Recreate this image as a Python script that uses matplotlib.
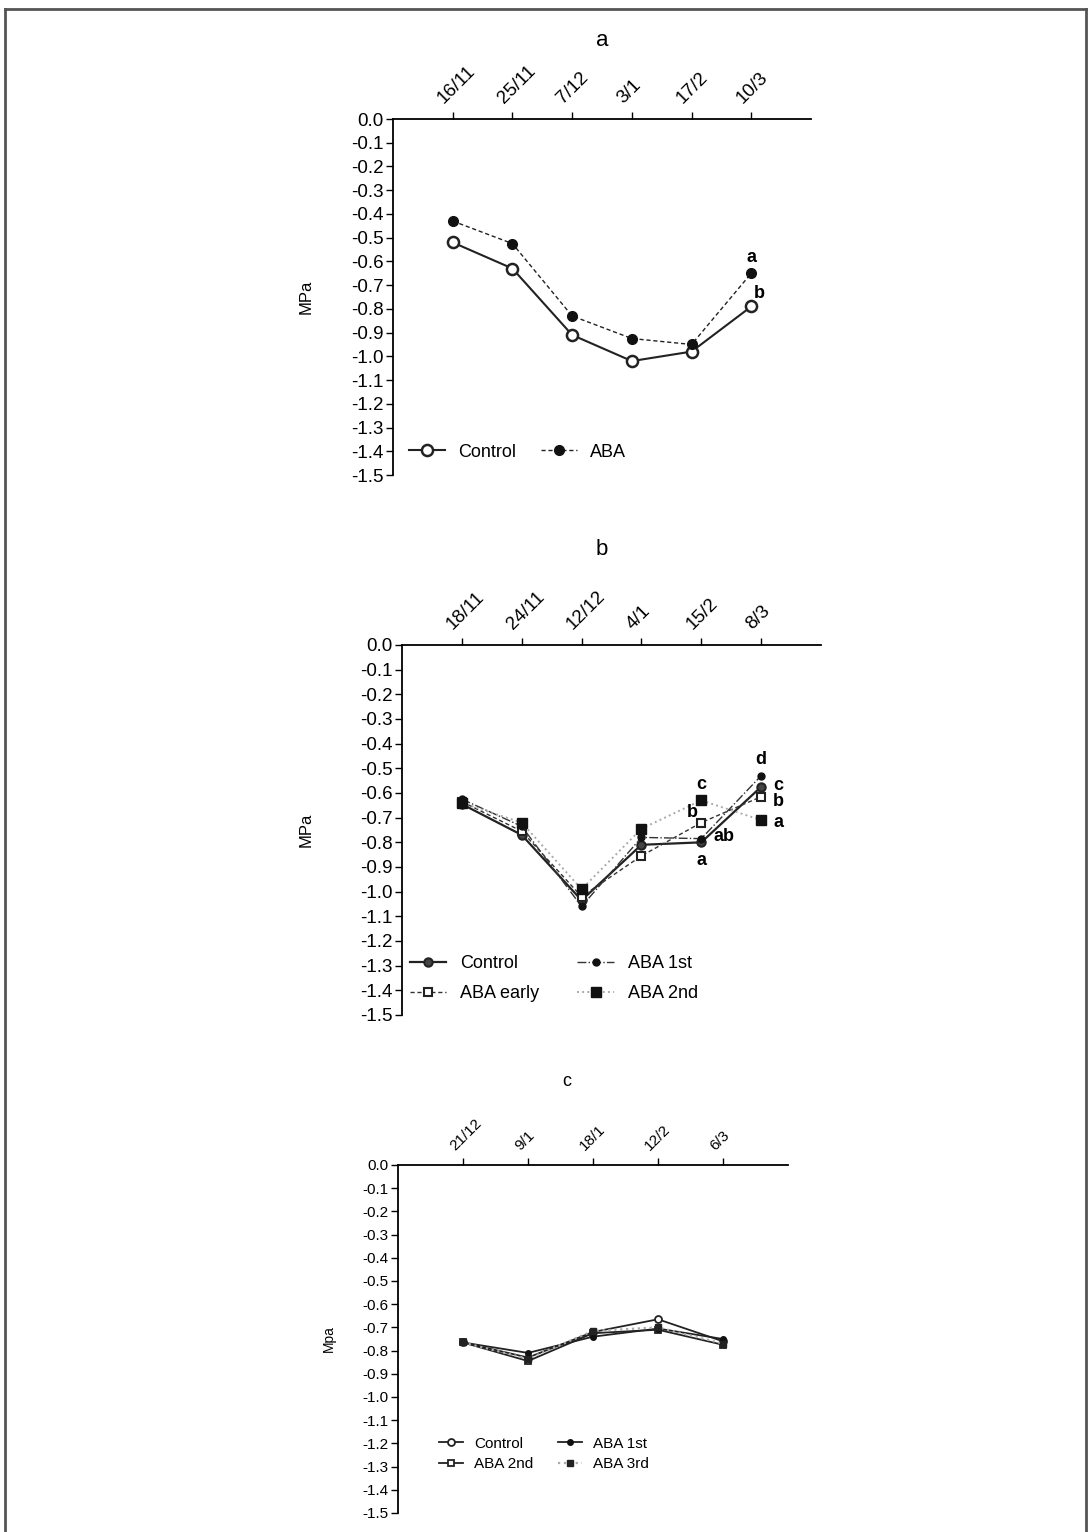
import numpy as np
import matplotlib
matplotlib.use('Agg')
import matplotlib.pyplot as plt
from matplotlib.lines import Line2D

plt.rcParams['font.family'] = ['Liberation Sans', 'DejaVu Sans']
plt.rcParams['axes.unicode_minus'] = False

# panel a: two treatments
a_dates = ['16/11', '25/11', '7/12', '3/1', '17/2', '10/3']
a_control = [-0.52, -0.63, -0.91, -1.02, -0.98, -0.79]
a_aba = [-0.43, -0.525, -0.83, -0.925, -0.95, -0.65]

# panel b: four treatments
b_dates = ['18/11', '24/11', '12/12', '4/1', '15/2', '8/3']
b_control = [-0.645, -0.77, -1.035, -0.81, -0.80, -0.575]
b_aba1 = [-0.625, -0.735, -1.06, -0.78, -0.785, -0.53]
b_early = [-0.635, -0.755, -1.02, -0.855, -0.72, -0.615]
b_aba2 = [-0.64, -0.72, -0.99, -0.745, -0.63, -0.71]

# panel c: four treatments
c_dates = ['21/12', '9/1', '18/1', '12/2', '6/3']
c_control = [-0.765, -0.83, -0.72, -0.665, -0.76]
c_aba1 = [-0.765, -0.81, -0.74, -0.705, -0.75]
c_aba2 = [-0.765, -0.845, -0.725, -0.71, -0.775]
c_aba3 = [-0.765, -0.835, -0.715, -0.70, -0.77]

yticks = np.round(np.arange(0, -1.51, -0.1), 1)

W, H = 1090, 1532
fig = plt.figure(figsize=(W / 100, H / 100), dpi=100)


def px_axes(left, right, top, bottom):
    return fig.add_axes([left / W, 1 - bottom / H, (right - left) / W, (bottom - top) / H])


def style_axes(ax, dates, xmax, fs):
    ax.set_xlim(0, xmax)
    ax.set_ylim(-1.5, 0)
    ax.xaxis.tick_top()
    ax.set_xticks(np.arange(1, len(dates) + 1))
    ax.set_xticklabels(dates, rotation=45, ha='left', va='bottom',
                       rotation_mode='anchor', fontsize=fs)
    ax.set_yticks(yticks)
    ax.set_yticklabels(['%.1f' % v for v in yticks], fontsize=fs)
    ax.spines['bottom'].set_visible(False)
    ax.spines['right'].set_visible(False)
    ax.spines['top'].set_linewidth(1.3)
    ax.spines['left'].set_linewidth(1.3)
    ax.tick_params(axis='both', direction='out', length=5, width=1, pad=2)
    ax.patch.set_alpha(0)
    for lab in ax.get_xticklabels():
        lab.set_transform(lab.get_transform() + matplotlib.transforms.ScaledTranslation(-0.06, 0.02, fig.dpi_scale_trans))


# ---- a ----
ax = px_axes(393, 811, 119, 475)
style_axes(ax, a_dates, 7, 13.5)
xa = np.arange(1, len(a_dates) + 1)
ax.plot(xa, a_control, '-', color='#222', lw=1.5, marker='o', ms=8,
        mfc='white', mec='#222', mew=1.8, label='Control', clip_on=False)
ax.plot(xa, a_aba, '--', color='#222', lw=1, dashes=(3, 2), marker='o', ms=7,
        mfc='#111', mec='#111', label='ABA', clip_on=False)
ax.text(xa[-1], a_aba[-1] + 0.03, 'a', ha='center', va='bottom', fontsize=13, fontweight='bold')
ax.text(xa[-1] + 0.05, a_control[-1] + 0.02, 'b', ha='left', va='bottom', fontsize=13, fontweight='bold')
ax.legend(loc='lower left', bbox_to_anchor=(0.0, -0.005), ncol=2, frameon=False,
          fontsize=13, handlelength=2.0, columnspacing=1.4, handletextpad=0.7)
ax.set_ylabel('MPa', fontsize=12)
ax.yaxis.set_label_coords(-0.19, 0.5)
fig.text(602 / W, 1 - 40 / H, 'a', ha='center', va='center', fontsize=16)

# ---- b ----
ax = px_axes(402, 821, 645, 1015)
style_axes(ax, b_dates, 7, 13.5)
xb = np.arange(1, len(b_dates) + 1)
ax.plot(xb, b_control, '-', color='#222', lw=1.6, marker='o', ms=6,
        mfc='#444', mec='#222', mew=1.5, label='Control', clip_on=False)
ax.plot(xb, b_early, '--', color='#333', lw=1, dashes=(3, 2), marker='s', ms=6,
        mfc='white', mec='#222', mew=1.5, label='ABA early', clip_on=False)
ax.plot(xb, b_aba1, '-.', color='#333', lw=1, marker='o', ms=5,
        mfc='#111', mec='#111', label='ABA 1st', clip_on=False)
ax.plot(xb, b_aba2, ':', color='#aaa', lw=1.4, marker='s', ms=7,
        mfc='#111', mec='#111', label='ABA 2nd', clip_on=False)
bt = dict(fontsize=13, fontweight='bold')
ax.text(xb[4], b_aba2[4] + 0.03, 'c', ha='center', va='bottom', **bt)
ax.text(xb[4] - 0.05, b_early[4] + 0.005, 'b', ha='right', va='bottom', **bt)
ax.text(xb[4] + 0.2, b_aba1[4] + 0.01, 'ab', ha='left', va='center', **bt)
ax.text(xb[4], b_control[4] - 0.04, 'a', ha='center', va='top', **bt)
ax.text(xb[5], b_aba1[5] + 0.03, 'd', ha='center', va='bottom', **bt)
ax.text(xb[5] + 0.2, b_control[5] + 0.005, 'c', ha='left', va='center', **bt)
ax.text(xb[5] + 0.2, b_early[5] - 0.02, 'b', ha='left', va='center', **bt)
ax.text(xb[5] + 0.2, b_aba2[5] - 0.01, 'a', ha='left', va='center', **bt)
ax.legend(loc='lower left', bbox_to_anchor=(-0.02, -0.01), ncol=2, frameon=False,
          fontsize=13, handlelength=2.0, columnspacing=2.1, handletextpad=0.8,
          labelspacing=0.75)
ax.set_ylabel('MPa', fontsize=12)
ax.yaxis.set_label_coords(-0.21, 0.5)
fig.text(602 / W, 1 - 549 / H, 'b', ha='center', va='center', fontsize=16)

# ---- c ----
ax = px_axes(398, 788, 1165, 1513)
style_axes(ax, c_dates, 6, 11)
xc = np.arange(1, len(c_dates) + 1)
ax.plot(xc, c_control, '-', color='#222', lw=1.3, marker='o', ms=5,
        mfc='white', mec='#222', mew=1.3, label='Control', clip_on=False)
ax.plot(xc, c_aba2, '-', color='#222', lw=1.3, marker='s', ms=5,
        mfc='white', mec='#222', mew=1.3, label='ABA 2nd', clip_on=False)
ax.plot(xc, c_aba1, '-', color='#222', lw=1.3, marker='o', ms=4,
        mfc='#111', mec='#111', label='ABA 1st', clip_on=False)
ax.plot(xc, c_aba3, ':', color='#aaa', lw=1.6, marker='s', ms=5,
        mfc='#222', mec='#222', label='ABA 3rd', clip_on=False)
ax.legend(loc='lower left', bbox_to_anchor=(0.07, 0.08), ncol=2, frameon=False,
          fontsize=11, handlelength=1.6, columnspacing=1.6, handletextpad=0.7,
          labelspacing=0.45)
ax.set_ylabel('Mpa', fontsize=10)
ax.yaxis.set_label_coords(-0.16, 0.5)
fig.text(567 / W, 1 - 1082 / H, 'c', ha='center', va='center', fontsize=13)

# page border
for xs, ys in [((5, 1086), (9, 9)), ((5, 5), (9, H)), ((1086, 1086), (9, H))]:
    fig.add_artist(Line2D([x / W for x in xs], [1 - y / H for y in ys],
                          color='#555', lw=2))

fig.savefig('out.png', dpi=100)
